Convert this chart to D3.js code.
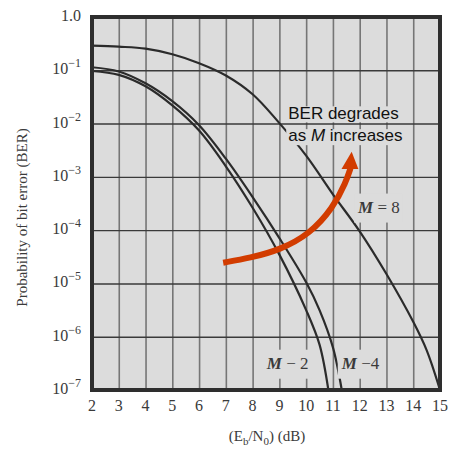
<!DOCTYPE html>
<html>
<head>
<meta charset="utf-8">
<script src="https://cdn.jsdelivr.net/npm/d3@7"></script>
<style>
  body { margin: 0; background: #fff; }
  svg { display: block; }
  .tick-label { font-family: "Liberation Serif", "Times New Roman", serif; fill: #3a3a3a; }
</style>
</head>
<body>
<div id="chart"></div>
<script>
// values (BER against Eb/N0 in dB)
const ebn0M2 = [2, 3, 4, 5, 6, 7, 8, 9, 10, 10.5, 10.83];
const berM2 = [0.097, 0.082, 0.050, 0.0219, 7.4e-3, 1.58e-3, 2.63e-4, 3.47e-5, 3.16e-6, 7.1e-7, 1e-7];

const ebn0M4 = [2, 3, 4, 5, 6, 7, 8, 9, 10, 10.5, 11, 11.33];
const berM4 = [0.114, 0.095, 0.0569, 0.0263, 9.3e-3, 2.19e-3, 4.17e-4, 7.1e-5, 1.05e-5, 3.16e-6, 6.3e-7, 1e-7];

const ebn0M8 = [2, 3, 4, 5, 6, 7, 8, 9, 10, 11, 12, 13, 14, 14.5, 15];
const berM8 = [0.29, 0.277, 0.255, 0.2, 0.136, 0.080, 0.0355, 0.0102, 2.5e-3, 4.7e-4, 9.5e-5, 1.5e-5, 1.9e-6, 5.6e-7, 1e-7];

const xTicks = [2, 3, 4, 5, 6, 7, 8, 9, 10, 11, 12, 13, 14, 15];
const yExponents = [0, -1, -2, -3, -4, -5, -6, -7];

// red arrow, in data units
const arrowX = [6.9, 7.9, 9.02, 10.14, 11.0, 11.49, 11.66];
const arrowY = [2.45e-5, 3.0e-5, 4.25e-5, 8.5e-5, 2.6e-4, 8.0e-4, 1.47e-3];
const arrowHeadX = [11.70, 11.32, 11.95];
const arrowHeadY = [2.95e-3, 1.4e-3, 1.4e-3];

let margin = {top: 17, right: 9, bottom: 59, left: 92};
let W = 449, H = 449;
let width = W - margin.left - margin.right;
let height = H - margin.top - margin.bottom;

let root = d3.select("#chart").append("svg")
    .attr("width", W)
    .attr("height", H);

let svg = root.append("g")
    .attr("transform", "translate(" + margin.left + "," + margin.top + ")");

let xScale = d3.scaleLinear().domain([2, 15]).range([0, width]);
let yScale = d3.scaleLog().domain([1e-7, 1]).range([height, 0]);

// plot background
svg.append("rect")
    .attr("width", width)
    .attr("height", height)
    .attr("fill", "#dcdcdc");

// vertical grid
svg.append("g")
    .attr("transform", "translate(0," + height + ")")
    .call(d3.axisBottom(xScale).tickValues(xTicks).tickSize(-height).tickFormat(""))
    .call(function(g) {
        g.select(".domain").remove();
        g.selectAll("line").attr("stroke", "#767676").attr("stroke-width", 1.6);
    });

// horizontal grid
svg.append("g")
    .call(d3.axisLeft(yScale).tickValues(yExponents.map(e => Math.pow(10, e))).tickSize(-width).tickFormat(""))
    .call(function(g) {
        g.select(".domain").remove();
        g.selectAll("line").attr("stroke", "#3a3a3a").attr("stroke-width", 1.4);
    });

// curves
let line = d3.line()
    .x(d => xScale(d[0]))
    .y(d => yScale(d[1]))
    .curve(d3.curveCatmullRom.alpha(0.5));

let series = [
    d3.zip(ebn0M2, berM2),
    d3.zip(ebn0M4, berM4),
    d3.zip(ebn0M8, berM8)
];

svg.append("clipPath").attr("id", "plotclip")
    .append("rect").attr("width", width).attr("height", height);

svg.append("g")
    .attr("clip-path", "url(#plotclip)")
    .selectAll("path")
    .data(series)
    .join("path")
    .attr("d", line)
    .attr("fill", "none")
    .attr("stroke", "#2b2b2b")
    .attr("stroke-width", 2.2);

// curve labels, on a patch of background that hides the grid
function curveLabel(x, y, rest) {
    let g = svg.append("g");
    let bg = g.append("rect").attr("fill", "#dcdcdc");
    let t = g.append("text")
        .attr("x", xScale(x))
        .attr("y", yScale(y))
        .attr("font-family", "Liberation Serif, Times New Roman, serif")
        .attr("font-size", 17)
        .attr("fill", "#3a3a3a");
    t.append("tspan").attr("font-weight", "bold").attr("font-style", "italic").text("M");
    t.append("tspan").text(rest);
    let b = t.node().getBBox();
    bg.attr("x", b.x - 3).attr("y", b.y - 4).attr("width", b.width + 6).attr("height", b.height + 10);
}
curveLabel(11.94, 10 ** -3.67, " = 8");
curveLabel(8.53, 10 ** -6.6, " − 2");
curveLabel(11.33, 10 ** -6.6, " −4");

// annotation text
let noteFont = "Liberation Sans, Arial, sans-serif";
let note1 = svg.append("g");
let n1bg = note1.append("rect").attr("fill", "#dcdcdc");
let n1 = note1.append("text")
    .attr("x", xScale(9.33)).attr("y", yScale(10 ** -1.92))
    .attr("font-family", noteFont).attr("font-size", 17).attr("fill", "#111")
    .text("BER degrades");
let b1 = n1.node().getBBox();
n1bg.attr("x", b1.x - 2).attr("y", b1.y + 2).attr("width", b1.width + 4).attr("height", b1.height - 3);

let note2 = svg.append("g");
let n2bg = note2.append("rect").attr("fill", "#dcdcdc");
let n2 = note2.append("text")
    .attr("x", xScale(9.33)).attr("y", yScale(10 ** -2.33))
    .attr("font-family", noteFont).attr("font-size", 17).attr("fill", "#111");
n2.append("tspan").text("as ");
n2.append("tspan").attr("font-style", "italic").text("M");
n2.append("tspan").text(" increases");
let b2 = n2.node().getBBox();
n2bg.attr("x", b2.x - 2).attr("y", b2.y + 3).attr("width", b2.width + 4).attr("height", b2.height - 3);

// arrow
let arrowLine = d3.line()
    .x(d => xScale(d[0]))
    .y(d => yScale(d[1]))
    .curve(d3.curveBasis);

svg.append("path")
    .attr("d", arrowLine(d3.zip(arrowX, arrowY)))
    .attr("fill", "none")
    .attr("stroke", "#d23c00")
    .attr("stroke-width", 6);

svg.append("path")
    .attr("d", d3.line().x(d => xScale(d[0])).y(d => yScale(d[1]))(d3.zip(arrowHeadX, arrowHeadY)) + "Z")
    .attr("fill", "#d23c00");

// frame
svg.append("rect")
    .attr("width", width)
    .attr("height", height)
    .attr("fill", "none")
    .attr("stroke", "#2e2e2e")
    .attr("stroke-width", 4);

// x tick labels
svg.append("g")
    .selectAll("text")
    .data(xTicks)
    .join("text")
    .attr("class", "tick-label")
    .attr("x", d => xScale(d))
    .attr("y", height + 21)
    .attr("text-anchor", "middle")
    .attr("font-size", 16)
    .text(d => d);

// y tick labels
let yl = svg.append("g")
    .selectAll("text")
    .data(yExponents)
    .join("text")
    .attr("class", "tick-label")
    .attr("x", -11)
    .attr("y", d => yScale(Math.pow(10, d)) + 4)
    .attr("text-anchor", "end")
    .attr("font-size", 16);

yl.filter(d => d === 0).text("1.0");
yl.filter(d => d !== 0).each(function(d) {
    let t = d3.select(this);
    t.append("tspan").text("10");
    t.append("tspan").attr("font-size", 12).attr("dy", -7).text("−" + (-d));
});

// axis titles
let xt = root.append("text")
    .attr("class", "tick-label")
    .attr("x", margin.left + width / 2 + 1)
    .attr("y", 441)
    .attr("text-anchor", "middle")
    .attr("font-size", 15);
xt.append("tspan").text("(E");
xt.append("tspan").attr("font-size", 11).attr("dy", 4).text("b");
xt.append("tspan").attr("dy", -4).text("/N");
xt.append("tspan").attr("font-size", 11).attr("dy", 4).text("0");
xt.append("tspan").attr("dy", -4).text(") (dB)");

root.append("text")
    .attr("class", "tick-label")
    .attr("transform", "translate(27," + (margin.top + height / 2 + 14) + ") rotate(-90)")
    .attr("text-anchor", "middle")
    .attr("font-size", 15)
    .text("Probability of bit error (BER)");
</script>
</body>
</html>
